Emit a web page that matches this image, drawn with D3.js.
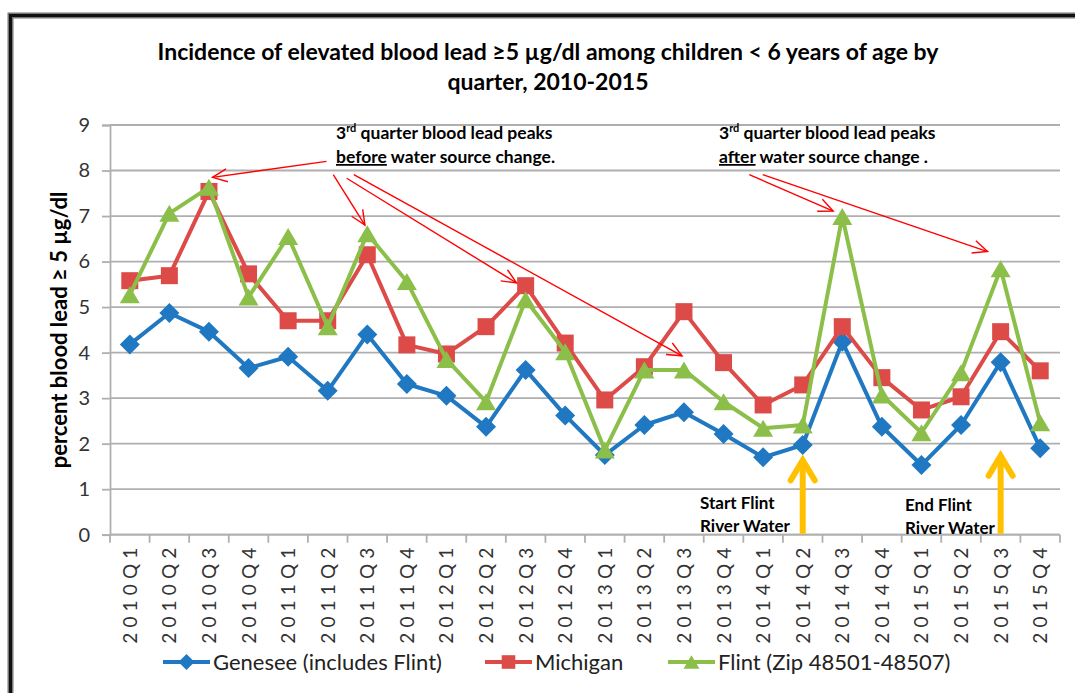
<!DOCTYPE html>
<html>
<head>
<meta charset="utf-8">
<script src="https://cdn.jsdelivr.net/npm/d3@7"></script>
<style>
  body { margin: 0; background: #fff; }
  text { font-family: Lato, "Open Sans", sans-serif; }
</style>
</head>
<body>
<script>
// chart data
var quarters = ["2010Q1","2010Q2","2010Q3","2010Q4","2011Q1","2011Q2","2011Q3","2011Q4",
                "2012Q1","2012Q2","2012Q3","2012Q4","2013Q1","2013Q2","2013Q3","2013Q4",
                "2014Q1","2014Q2","2014Q3","2014Q4","2015Q1","2015Q2","2015Q3","2015Q4"];
var genesee  = [4.18,4.87,4.46,3.66,3.91,3.16,4.40,3.31,3.05,2.37,3.62,2.62,
                1.75,2.41,2.69,2.21,1.70,1.97,4.24,2.37,1.53,2.41,3.79,1.90];
var michigan = [5.58,5.69,7.54,5.73,4.70,4.70,6.15,4.17,3.97,4.57,5.47,4.21,
                2.96,3.69,4.90,3.78,2.85,3.29,4.57,3.45,2.74,3.03,4.46,3.60];
var flint    = [5.27,7.06,7.63,5.22,6.55,4.57,6.61,5.56,3.85,2.92,5.16,4.02,
                1.86,3.62,3.62,2.92,2.34,2.41,6.99,3.07,2.24,3.56,5.84,2.46];
var seriesNames = ["Genesee (includes Flint)", "Michigan", "Flint (Zip 48501-48507)"];
var yTicks = [0,1,2,3,4,5,6,7,8,9];

// red annotation arrows: [fromIndex, fromValue, toIndex, toValue]
var beforeArrows = [[4.97,8.20,2.09,7.85],[5.14,7.91,5.94,6.80],[5.48,7.83,9.77,5.53],[5.66,7.91,13.95,3.93]];
var afterArrows  = [[15.65,7.91,17.77,7.11],[15.99,7.91,21.67,6.22]];
// yellow arrows: category and tip value
var switchArrows = [["2014Q2",1.70],["2015Q3",1.80]];

var w = 1075;
var h = 693;
var plotLeft = 110, plotRight = 1060, plotTop = 125, plotBottom = 534.7;

var colors = ["#1F78C1", "#DD4B48", "#8CBF4A"];

var svg = d3.select("body").append("svg")
            .attr("width", w)
            .attr("height", h);

// frame
svg.append("rect")
   .attr("x", 10.5).attr("y", 15.5)
   .attr("width", w + 20).attr("height", h + 20)
   .attr("fill", "none")
   .attr("stroke", "#777").attr("stroke-width", 6);
svg.append("rect")
   .attr("x", 10.5).attr("y", 15.5)
   .attr("width", w + 20).attr("height", h + 20)
   .attr("fill", "none")
   .attr("stroke", "#111").attr("stroke-width", 3);

var x = d3.scaleBand().domain(quarters).range([plotLeft, plotRight]);
var xc = function(q) { return x(q) + x.bandwidth() / 2; };
var xi = d3.scaleLinear().domain([-0.5, 23.5]).range([plotLeft, plotRight]);
var y = d3.scaleLinear().domain([0, 9]).range([plotBottom, plotTop]);

// title
svg.append("text")
   .attr("x", 548).attr("y", 60)
   .attr("text-anchor", "middle")
   .attr("font-size", 23).attr("font-weight", "bold")
   .text("Incidence of elevated blood lead ≥5 µg/dl among children < 6 years of age by");
svg.append("text")
   .attr("x", 548).attr("y", 90)
   .attr("text-anchor", "middle")
   .attr("font-size", 23).attr("font-weight", "bold")
   .text("quarter, 2010-2015");

// gridlines
svg.append("g")
   .selectAll("line")
   .data(yTicks)
   .enter()
   .append("line")
   .attr("x1", plotLeft).attr("x2", plotRight)
   .attr("y1", function(d) { return y(d); })
   .attr("y2", function(d) { return y(d); })
   .attr("stroke", "#AFAFAF").attr("stroke-width", 1.8);

// y axis
var yAxis = svg.append("g")
   .attr("transform", "translate(" + plotLeft + ",0)")
   .call(d3.axisLeft(y).tickValues(yTicks).tickSize(8).tickPadding(12).tickFormat(d3.format("d")));
yAxis.select(".domain").attr("stroke", "#AFAFAF").attr("stroke-width", 1.8);
yAxis.selectAll(".tick line").attr("stroke", "#AFAFAF").attr("stroke-width", 1.8);
yAxis.selectAll("text").attr("font-size", 20).attr("fill", "#333")
     .style("font-family", "Lato, sans-serif");

svg.append("text")
   .attr("transform", "translate(67," + ((plotTop + plotBottom) / 2) + ") rotate(-90)")
   .attr("text-anchor", "middle")
   .attr("font-size", 22).attr("font-weight", "bold")
   .text("percent blood lead ≥ 5 µg/dl");

// x axis
svg.append("line")
   .attr("x1", plotLeft).attr("x2", plotRight)
   .attr("y1", plotBottom).attr("y2", plotBottom)
   .attr("stroke", "#AFAFAF").attr("stroke-width", 1.8);
svg.append("g")
   .selectAll("line")
   .data(d3.range(-0.5, 24, 1))
   .enter()
   .append("line")
   .attr("x1", function(d) { return xi(d); })
   .attr("x2", function(d) { return xi(d); })
   .attr("y1", plotBottom).attr("y2", plotBottom + 8)
   .attr("stroke", "#AFAFAF").attr("stroke-width", 1.8);

svg.append("g")
   .selectAll("text")
   .data(quarters)
   .enter()
   .append("text")
   .attr("transform", function(d) { return "translate(" + (xc(d) + 7) + "," + (plotBottom + 13) + ") rotate(-90)"; })
   .attr("text-anchor", "end")
   .attr("font-size", 19).attr("fill", "#333")
   .attr("textLength", 96).attr("lengthAdjust", "spacing")
   .text(function(d) { return d; });

// markers
var markers = [
  function() { return "M0,-10L10,0L0,10L-10,0Z"; },
  function() { return "M-8.5,-8.5L8.5,-8.5L8.5,8.5L-8.5,8.5Z"; },
  function() { return "M0,-8.5L10,8.5L-10,8.5Z"; }
];

var allSeries = [genesee, michigan, flint];
var line = d3.line()
             .x(function(d, i) { return xc(quarters[i]); })
             .y(function(d) { return y(d); });

allSeries.forEach(function(series, k) {
  svg.append("path")
     .datum(series)
     .attr("d", line)
     .attr("fill", "none")
     .attr("stroke", colors[k])
     .attr("stroke-width", 4)
     .attr("stroke-linejoin", "round");
  svg.append("g")
     .selectAll("path")
     .data(series)
     .enter()
     .append("path")
     .attr("d", markers[k])
     .attr("transform", function(d, i) { return "translate(" + xc(quarters[i]) + "," + y(d) + ")"; })
     .attr("fill", colors[k]);
});

// red arrows
function redArrow(a) {
  var x1 = xi(a[0]), y1 = y(a[1]), x2 = xi(a[2]), y2 = y(a[3]);
  var ang = Math.atan2(y2 - y1, x2 - x1);
  var len = 16, spread = 0.42;
  svg.append("line")
     .attr("x1", x1).attr("y1", y1).attr("x2", x2).attr("y2", y2)
     .attr("stroke", "#FF0000").attr("stroke-width", 1.4);
  var p1 = [x2 - len * Math.cos(ang - spread), y2 - len * Math.sin(ang - spread)];
  var p2 = [x2 - len * Math.cos(ang + spread), y2 - len * Math.sin(ang + spread)];
  svg.append("polyline")
     .attr("points", [p1, [x2, y2], p2].map(function(p) { return p.join(","); }).join(" "))
     .attr("fill", "none")
     .attr("stroke", "#FF0000").attr("stroke-width", 1.4);
}
beforeArrows.forEach(redArrow);
afterArrows.forEach(redArrow);

// annotation texts
function note(xPos, word, tail) {
  var t1 = svg.append("text")
     .attr("x", xPos).attr("y", 139)
     .attr("font-size", 17.5).attr("font-weight", "bold")
     .style("white-space", "pre");
  t1.append("tspan").text("3");
  t1.append("tspan").attr("font-size", 11).attr("dy", -7).text("rd");
  t1.append("tspan").attr("dy", 7).text(" quarter blood lead peaks");
  var t2 = svg.append("text")
     .attr("x", xPos).attr("y", 163)
     .attr("font-size", 17.5).attr("font-weight", "bold")
     .style("white-space", "pre");
  t2.append("tspan").attr("text-decoration", "underline").text(word);
  t2.append("tspan").text(tail);
}
note(336, "before", " water source change.");
note(719, "after", " water source change .");

// yellow arrows
switchArrows.forEach(function(a) {
  var ax = xc(a[0]), tip = y(a[1]);
  svg.append("line")
     .attr("x1", ax).attr("x2", ax)
     .attr("y1", plotBottom - 1).attr("y2", tip + 3)
     .attr("stroke", "#FFC000").attr("stroke-width", 6);
  svg.append("polyline")
     .attr("points", (ax - 12) + "," + (tip + 23) + " " + ax + "," + (tip + 3) + " " + (ax + 12) + "," + (tip + 23))
     .attr("fill", "none")
     .attr("stroke", "#FFC000").attr("stroke-width", 6)
     .attr("stroke-linecap", "round");
});

function label(xPos, yPos, lines) {
  lines.forEach(function(s, i) {
    svg.append("text")
       .attr("x", xPos).attr("y", yPos + i * 23)
       .attr("font-size", 17).attr("font-weight", "bold")
       .text(s);
  });
}
label(700, 509, ["Start Flint", "River Water"]);
label(905, 511, ["End Flint", "River Water"]);

// legend
var legendX = [163, 485, 668];
seriesNames.forEach(function(name, k) {
  var lx = legendX[k], ly = 662;
  svg.append("line")
     .attr("x1", lx).attr("x2", lx + 47)
     .attr("y1", ly).attr("y2", ly)
     .attr("stroke", colors[k]).attr("stroke-width", 4);
  svg.append("path")
     .attr("d", markers[k])
     .attr("transform", "translate(" + (lx + 23.5) + "," + ly + ") scale(0.8)")
     .attr("fill", colors[k]);
  svg.append("text")
     .attr("x", lx + 50).attr("y", ly + 8)
     .attr("font-size", 22).attr("fill", "#222")
     .text(name);
});
</script>
</body>
</html>
